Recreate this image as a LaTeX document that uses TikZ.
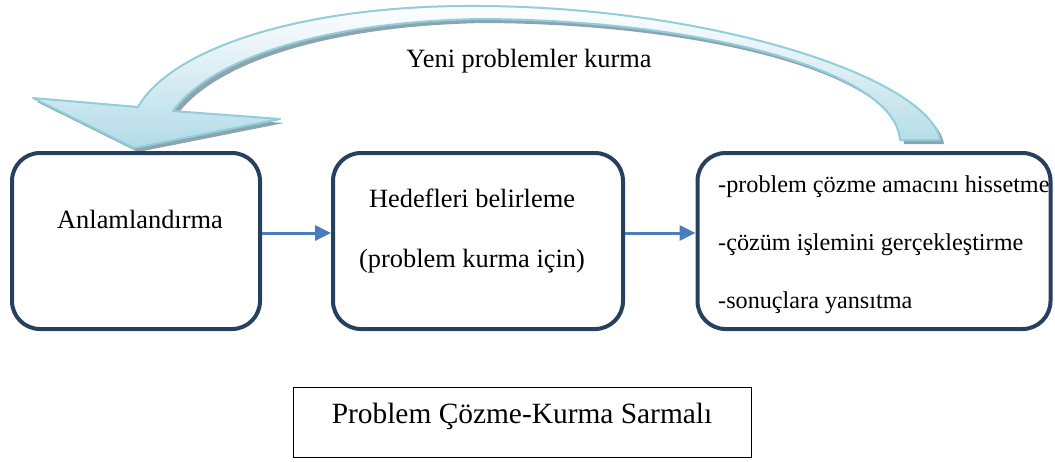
\documentclass[tikz,border=0pt]{standalone}
\usepackage{fontspec}
\setmainfont{Liberation Serif}
\usetikzlibrary{arrows.meta,positioning}

\definecolor{boxnavy}{RGB}{38,64,96}
\definecolor{linkblue}{RGB}{74,126,187}
\definecolor{loopedge}{RGB}{146,205,220}
\definecolor{loopfill}{RGB}{178,219,231}
\definecolor{loopshadow}{RGB}{140,164,174}

% outline of the big return arrow (pixel units)
\newcommand{\looparrow}{(940,140) .. controls (930,80) and (720,8) .. (483,6)
  .. controls (300,4) and (170,50) .. (138,107) -- (33,98) -- (134,148)
  -- (280,119) -- (173,111) .. controls (210,60) and (320,22) .. (480,19)
  .. controls (700,20) and (895,70) .. (900,140) -- cycle}

\begin{document}
\begin{tikzpicture}[x=1pt,y=-1pt,
    font=\fontsize{26.4}{31}\selectfont,
    stepbox/.style={draw=boxnavy,line width=4pt,rounded corners=28pt,minimum height=176pt},
    note/.style={inner sep=0pt},
    listnote/.style={note,anchor=base west,font=\fontsize{24.2}{29}\selectfont},
    link/.style={draw=linkblue,line width=3pt,-{Triangle[length=16pt,width=15pt]}},
    capbox/.style={draw=black,line width=1pt,minimum width=458pt,minimum height=70pt,
      font=\fontsize{29.4}{35}\selectfont,text height=10pt,text depth=8pt}]
  \useasboundingbox (0,0) rectangle (1055,461);

  % return arrow with its shadow
  \fill[loopshadow,shift={(4,4)}] \looparrow;
  \path[draw=loopedge,line width=2pt,line join=round,top color=white,bottom color=loopfill] \looparrow;
  \node[note,anchor=base] (yeni) at (529,67) {Yeni problemler kurma};

  % the three steps
  \node[stepbox,minimum width=248pt] (anlam) at (136,241) {};
  \node[stepbox,minimum width=290pt] (hedef) at (478,241) {};
  \node[stepbox,minimum width=353pt] (cozum) at (874,241) {};

  \node[note,anchor=base] (anlamtxt) at (140,228) {Anlamlandırma};
  \node[note,anchor=base] (hedeftxt) at (472,207) {Hedefleri belirleme};
  \node[note,anchor=base] (hedefnot) at (472,267) {(problem kurma için)};
  \node[listnote] (cozumA) at (718,192) {-problem çözme amacını hissetme};
  \node[listnote] (cozumB) at (718,250) {-çözüm işlemini gerçekleştirme};
  \node[listnote] (cozumC) at (718,308) {-sonuçlara yansıtma};

  \draw[link] ([yshift=8pt]anlam.east) -- ([yshift=8pt]hedef.west);
  \draw[link] ([yshift=8pt]hedef.east) -- ([yshift=8pt]cozum.west);

  % caption
  \node[capbox] (sarmal) at (522,422) {Problem Çözme-Kurma Sarmalı};
\end{tikzpicture}
\end{document}
